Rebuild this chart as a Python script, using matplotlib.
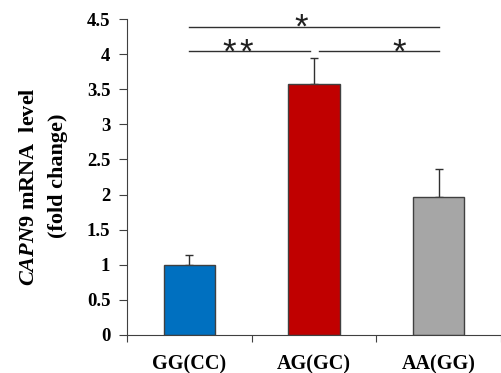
import matplotlib.pyplot as plt
import matplotlib as mpl

mpl.rcParams['mathtext.fontset'] = 'custom'
mpl.rcParams['mathtext.rm'] = 'Liberation Serif:bold'
mpl.rcParams['mathtext.it'] = 'Liberation Serif:bold:italic'

# dados
genotipos = ['GG(CC)', 'AG(GC)', 'AA(GG)']
niveis = [1.0, 3.57, 1.97]
erros = [0.14, 0.37, 0.40]
cores = ['#0070C0', '#C00000', '#A6A6A6']

yticks = [0, 0.5, 1, 1.5, 2, 2.5, 3, 3.5, 4, 4.5]
ytick_labels = ['0', '0.5', '1', '1.5', '2', '2.5', '3', '3.5', '4', '4.5']

# barras de significancia: (inicio, fim, altura)
sig_linhas = [(0, 2, 4.39), (0, 0.97, 4.05), (1.04, 2, 4.05)]
# estrelas: (x, altura do centro)
estrelas = [(0.9, 4.53), (0.32, 4.18), (0.46, 4.18), (1.68, 4.18)]

fig = plt.figure(figsize=(5.02, 3.73), dpi=100)
ax = fig.add_axes([0.253, 0.102, 0.745, 0.847])

x = list(range(len(genotipos)))
ax.bar(x, niveis, width=0.41, color=cores, edgecolor='#404040', linewidth=1, zorder=2)
ax.errorbar(x, niveis, yerr=[[0] * 3, erros], fmt='none', ecolor='#303030',
            elinewidth=1, capsize=3, capthick=1, zorder=1)

for x0, x1, h in sig_linhas:
    ax.plot([x0, x1], [h, h], color='#303030', lw=1, clip_on=False)
for xs, ys in estrelas:
    ax.text(xs, ys - 0.30, '*', ha='center', va='baseline', fontsize=25,
            family='Liberation Sans', color='#202020', clip_on=False)

ax.set_xlim(-0.5, 2.5)
ax.set_ylim(0, 4.5)
ax.set_yticks(yticks)
ax.set_yticklabels(ytick_labels, family='Liberation Serif', fontweight='bold', fontsize=13.5)
ax.set_xticks([-0.5, 0.5, 1.5, 2.5])
ax.set_xticklabels([])
ax.set_xticks(x, minor=True)
ax.set_xticklabels(genotipos, minor=True, family='Liberation Serif', fontweight='bold', fontsize=14.5)
ax.tick_params(axis='x', which='minor', length=0, pad=14)
ax.tick_params(axis='x', which='major', length=5, direction='out', color='#404040')
ax.tick_params(axis='y', length=6, direction='out', color='#404040', pad=6)

ax.spines['top'].set_visible(False)
ax.spines['right'].set_visible(False)
ax.spines['left'].set_color('#404040')
ax.spines['bottom'].set_color('#404040')

fig.text(0.057, 0.50, r'$\mathit{CAPN9}$ mRNA  level', rotation=90, ha='center', va='center',
         family='Liberation Serif', fontweight='bold', fontsize=16)
fig.text(0.116, 0.53, '(fold change)', rotation=90, ha='center', va='center',
         family='Liberation Serif', fontweight='bold', fontsize=16)

fig.savefig('out.png', dpi=100)
